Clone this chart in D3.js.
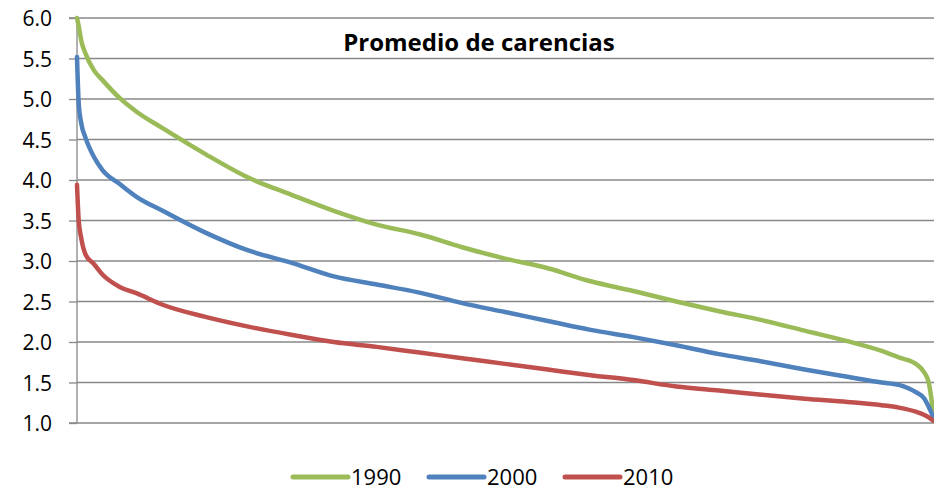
<!DOCTYPE html>
<html>
<head>
<meta charset="utf-8">
<script src="https://cdn.jsdelivr.net/npm/d3@7"></script>
<style>
  body { margin: 0; background: #fff; }
  svg text { font-family: "Open Sans", "Noto Sans", sans-serif; fill: #000; }
</style>
</head>
<body>
<div id="chart"></div>
<script>
// position along the ranked list of units (percent)
const ranks = [0, 0.2, 0.5, 1, 2, 3, 5, 7, 10, 15, 20, 25, 30, 35, 40, 45, 50,
    55, 60, 65, 70, 75, 80, 85, 90, 94, 96, 98, 99, 99.5, 100];

const values1990 = [6.0, 5.9, 5.72, 5.56, 5.35, 5.23, 5.01, 4.84, 4.64, 4.32, 4.03,
    3.82, 3.62, 3.45, 3.33, 3.17, 3.03, 2.91, 2.75, 2.63, 2.50, 2.38, 2.27,
    2.14, 2.01, 1.89, 1.81, 1.73, 1.62, 1.5, 1.15];
const values2000 = [5.52, 4.95, 4.7, 4.52, 4.28, 4.12, 3.95, 3.79, 3.62, 3.35, 3.13,
    2.98, 2.81, 2.71, 2.61, 2.48, 2.37, 2.26, 2.15, 2.06, 1.96, 1.85, 1.76,
    1.66, 1.57, 1.50, 1.47, 1.38, 1.30, 1.2, 1.08];
const values2010 = [3.94, 3.5, 3.28, 3.08, 2.96, 2.83, 2.68, 2.60, 2.46, 2.31, 2.19,
    2.09, 2.00, 1.94, 1.87, 1.80, 1.73, 1.66, 1.59, 1.53, 1.45, 1.40, 1.35,
    1.30, 1.26, 1.22, 1.19, 1.14, 1.10, 1.07, 1.03];

const seriesNames = ["1990", "2000", "2010"];
const seriesColors = ["#9BBB59", "#4F81BD", "#C0504D"];
const yTicks = [1.0, 1.5, 2.0, 2.5, 3.0, 3.5, 4.0, 4.5, 5.0, 5.5, 6.0];
const title = "Promedio de carencias";

const width = 934, height = 490;
const plot = { left: 77, right: 933, top: 18, bottom: 423 };

const svg = d3.select("#chart").append("svg")
    .attr("width", width)
    .attr("height", height);

const x = d3.scaleLinear().domain([0, 100]).range([plot.left, plot.right]);
const y = d3.scaleLinear().domain([1, 6]).range([plot.bottom, plot.top]);

// gridlines
svg.append("g")
    .selectAll("line")
    .data(yTicks.filter(d => d > 1))
    .enter().append("line")
    .attr("x1", plot.left)
    .attr("x2", width)
    .attr("y1", d => y(d))
    .attr("y2", d => y(d))
    .attr("stroke", "#888")
    .attr("stroke-width", 1.3);

// y axis
const yAxis = d3.axisLeft(y)
    .tickValues(yTicks)
    .tickFormat(d3.format(".1f"))
    .tickSize(8)
    .tickPadding(17);

const yg = svg.append("g")
    .attr("transform", "translate(" + plot.left + ",0)")
    .call(yAxis);
yg.select(".domain").attr("stroke", "#888").attr("stroke-width", 1.3)
    .attr("d", "M-8," + plot.top + "H0V" + plot.bottom);
yg.selectAll(".tick line").attr("stroke", "#888").attr("stroke-width", 1.3);
yg.selectAll(".tick text")
    .style("font-family", '"Open Sans", "Noto Sans", sans-serif')
    .style("font-size", "21px")
    .attr("fill", "#000")
    .attr("dy", "0.36em");

// bottom axis line
svg.append("line")
    .attr("x1", plot.left - 8)
    .attr("x2", width)
    .attr("y1", plot.bottom)
    .attr("y2", plot.bottom)
    .attr("stroke", "#888")
    .attr("stroke-width", 1.3);

// series
const line = d3.line()
    .x((d, i) => x(ranks[i]))
    .y(d => y(d))
    .curve(d3.curveMonotoneX);

const allValues = [values1990, values2000, values2010];

svg.append("g")
    .selectAll("path")
    .data(allValues)
    .enter().append("path")
    .attr("d", line)
    .attr("fill", "none")
    .attr("stroke", (d, i) => seriesColors[i])
    .attr("stroke-width", 4.5)
    .attr("stroke-linejoin", "round")
    .attr("stroke-linecap", "round");

// title
svg.append("text")
    .attr("x", 479)
    .attr("y", 51)
    .attr("text-anchor", "middle")
    .style("font-size", "24px")
    .style("font-weight", "bold")
    .text(title);

// legend
const legendX = [293, 429, 565];
const legend = svg.append("g")
    .selectAll("g")
    .data(seriesNames)
    .enter().append("g")
    .attr("transform", (d, i) => "translate(" + legendX[i] + ",477)");

legend.append("line")
    .attr("x1", 0)
    .attr("x2", 55)
    .attr("stroke", (d, i) => seriesColors[i])
    .attr("stroke-width", 5)
    .attr("stroke-linecap", "round");

legend.append("text")
    .attr("x", 58)
    .attr("y", 8)
    .style("font-size", "22px")
    .text(d => d);
</script>
</body>
</html>
